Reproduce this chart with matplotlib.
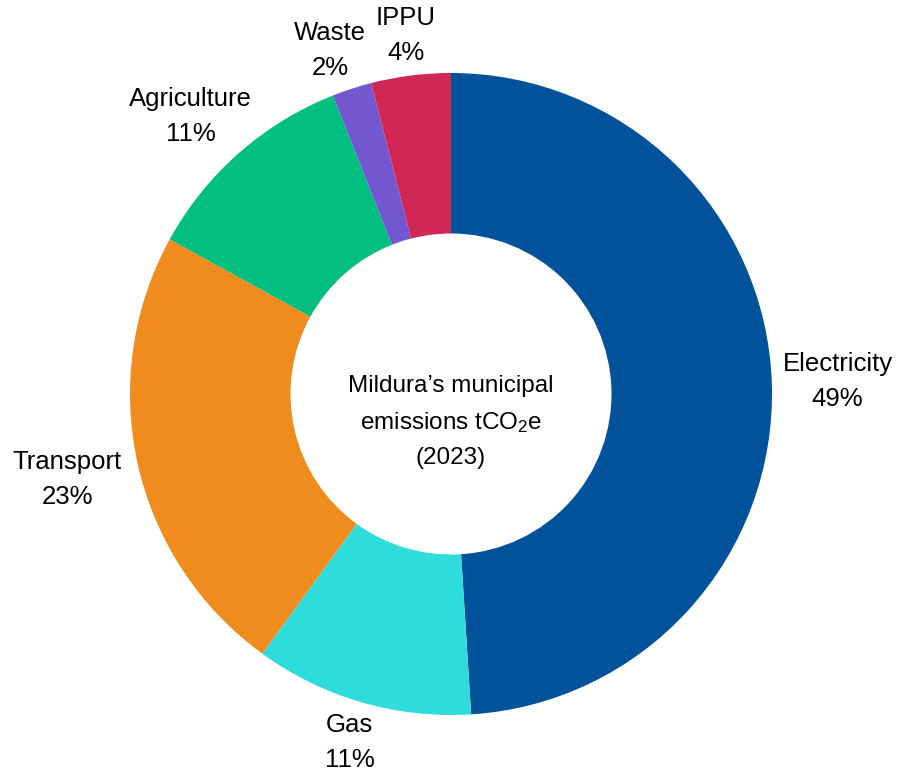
import numpy as np
import matplotlib
matplotlib.use('Agg')
import matplotlib.pyplot as plt

plt.rcParams['font.family'] = ['Liberation Sans', 'DejaVu Sans']
plt.rcParams['mathtext.default'] = 'regular'

#chart data
sectors = ['Electricity', 'Gas', 'Transport', 'Agriculture', 'Waste', 'IPPU']
shares = [49, 11, 23, 11, 2, 4]
colours = ['#00539B', '#2EDCDC', '#F08C1E', '#00BF80', '#7357D1', '#D12757']

#label layout: radial distance and small angle nudge (deg)
labelDist = [1.205, 1.13, 1.225, 1.185, 1.135, 1.125]
labelShift = [0, 0, 0, 1.8, 1.4, 0]

fig = plt.figure(figsize=(9.05, 7.71), dpi=100)
ax = fig.add_axes([0.0, 0.0, 1.0, 1.0])

wedges, _ = ax.pie(shares, colors=colours, startangle=90, counterclock=False,
                   radius=1.0, wedgeprops=dict(width=0.5, linewidth=0))

#place labels outside the ring
for w, name, val, d, s in zip(wedges, sectors, shares, labelDist, labelShift):
    ang = np.deg2rad((w.theta1 + w.theta2) / 2 + s)
    ax.text(d * np.cos(ang), d * np.sin(ang), name + '\n' + str(val) + '%',
            ha='center', va='center', fontsize=18.5, linespacing=1.59)

ax.text(0, -0.087, 'Mildura\u2019s municipal\nemissions tCO$_2$e\n(2023)',
        ha='center', va='center', fontsize=17.5, linespacing=1.72)

# centre (451,394) radius 321 px
ax.set_xlim(-451 / 321, (905 - 451) / 321)
ax.set_ylim(-(771 - 394) / 321, 394 / 321)
ax.set_aspect('equal')
ax.axis('off')

plt.savefig('out.png', dpi=100, facecolor='white')
